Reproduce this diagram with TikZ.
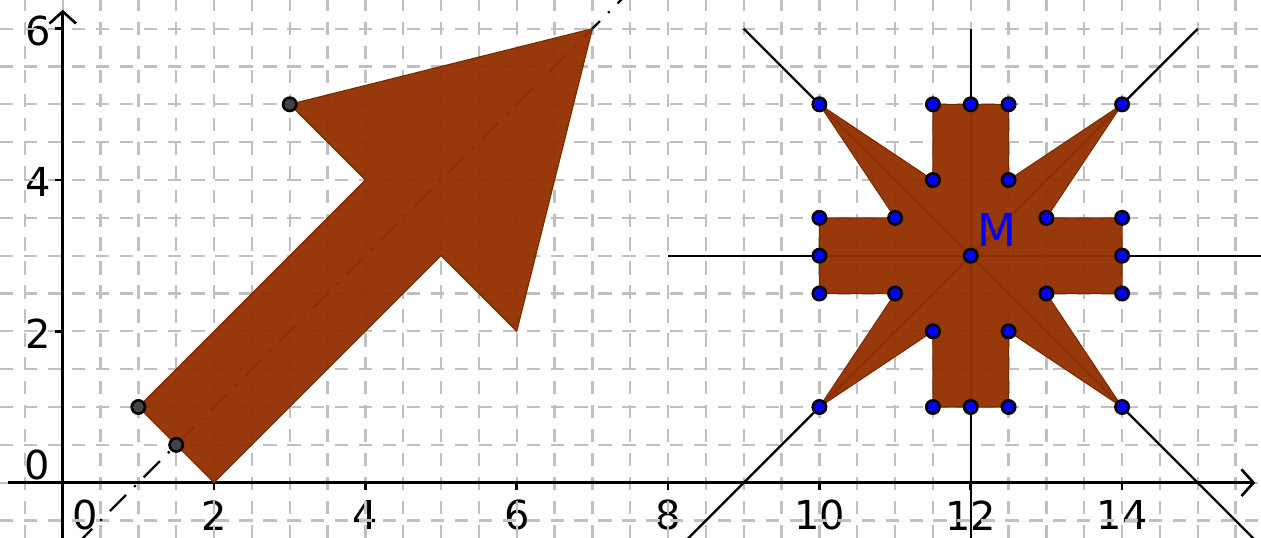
\documentclass[tikz,border=0pt]{standalone}
\usepackage{fontspec}
\setmainfont{DejaVu Sans}
\usepackage{tikz}
\usetikzlibrary{arrows.meta}
\definecolor{figbrown}{RGB}{153,51,0}
\definecolor{gridgray}{RGB}{192,192,192}
\definecolor{ptgray}{RGB}{68,68,68}
\definecolor{ptblue}{RGB}{0,0,255}

\begin{document}
\begin{tikzpicture}[
    x=1cm, y=1cm,
    gridline/.style={gridgray, line width=0.85pt, dash pattern=on 5pt off 4pt},
    axis/.style={line width=1pt, -{Straight Barb[length=4.5pt,width=10pt]}},
    mirror/.style={line width=0.85pt},
    symline/.style={line width=0.85pt, dash pattern=on 8.6pt off 4.3pt on 0.8pt off 4.3pt},
    figfill/.style={fill=figbrown!96!black, fill opacity=0.96, draw=figbrown!80!black, line width=0.4pt},
    ptg/.style={circle, fill=ptgray, draw=black, line width=1pt, inner sep=0pt, minimum size=5pt},
    ptb/.style={circle, fill=ptblue, draw=black, line width=1pt, inner sep=0pt, minimum size=5pt},
    num/.style={font=\fontsize{15}{17}\selectfont, inner sep=1pt}
  ]
  \useasboundingbox (-0.829,-0.731) rectangle (15.836,6.379);
  \clip (-0.829,-0.731) rectangle (15.836,6.379);

  % tick labels (grid goes over them)
  \foreach \x in {2,4,...,14}
    \node[num] (xl\x) at (\x,-0.43) {\x};
  \foreach \y in {2,4,6}
    \node[num] (yl\y) at (-0.33,\y-0.03) {\y};
  \node[num] (xl0) at (0.3,-0.43) {0};
  \node[num] (yl0) at (-0.34,0.23) {0};

  % grid and axes
  \draw[gridline] (-0.829,-0.731) grid[step=0.5] (15.836,6.379);
  \draw[axis] (-0.72,0) -- (15.76,0);
  \draw[axis] (0,-0.731) -- (0,6.25);
  \foreach \x in {2,4,...,14}
    \draw[line width=1pt] (\x,0) -- (\x,-0.1);
  \foreach \y in {2,4,6}
    \draw[line width=1pt] (0,\y) -- (-0.1,\y);

  % mirror lines
  \draw[symline] (-0.271,-1.271) -- (7.6,6.6);
  \draw[mirror] (8,3) -- (16,3);
  \draw[mirror] (12,6) -- (12,-1);
  \draw[mirror] (9,6) -- (16,-1);
  \draw[mirror] (15,6) -- (8,-1);

  % figures
  \draw[figfill] (1,1) -- (2,0) -- (5,3) -- (6,2) -- (7,6) -- (3,5) -- (4,4) -- cycle;
  \draw[figfill] (10,5) -- (11.5,4) -- (11.5,5) -- (12.5,5) -- (12.5,4) -- (14,5)
    -- (13,3.5) -- (14,3.5) -- (14,2.5) -- (13,2.5) -- (14,1) -- (12.5,2)
    -- (12.5,1) -- (11.5,1) -- (11.5,2) -- (10,1) -- (11,2.5) -- (10,2.5)
    -- (10,3.5) -- (11,3.5) -- cycle;

  % points
  \node[ptg] (A) at (1,1) {};
  \node[ptg] (B) at (1.5,0.5) {};
  \node[ptg] (C) at (3,5) {};
  \foreach \p [count=\i] in {{10,5},{11.5,5},{12,5},{12.5,5},{14,5},{11.5,4},{12.5,4},
      {10,3.5},{11,3.5},{13,3.5},{14,3.5},{10,3},{14,3},{10,2.5},{11,2.5},{13,2.5},
      {14,2.5},{11.5,2},{12.5,2},{10,1},{11.5,1},{12,1},{12.5,1},{14,1}}
    \node[ptb] (s\i) at (\p) {};
  \node[ptb] (M) at (12,3) {};
  \node[text=ptblue, font=\fontsize{17}{19}\selectfont] (Ml) at (12.35,3.34) {M};
\end{tikzpicture}
\end{document}
